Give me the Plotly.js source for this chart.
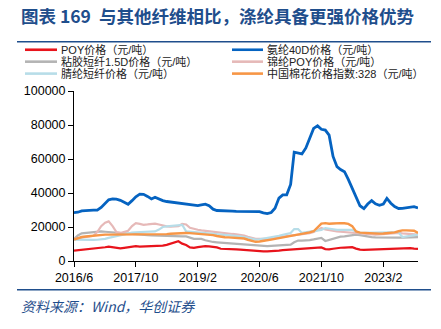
<!DOCTYPE html>
<html>
<head>
<meta charset="utf-8">
<script src="https://cdn.plot.ly/plotly-3.0.1.min.js"></script>
<style>html,body{margin:0;padding:0;background:#fff;}#chart{width:441px;height:329px;}</style>
</head>
<body>
<div id="chart"></div>
<script>
// ---- data ----
var startMonth = '2016-06';
var seriesNames = ['POY价格（元/吨）','氨纶40D价格（元/吨）','粘胶短纤1.5D价格（元/吨）','锦纶POY价格（元/吨）','腈纶短纤价格（元/吨）','中国棉花价格指数:328（元/吨）'];
var seriesColors = ['#E8141C','#0563C1','#B4B4B4','#E6B9B8','#B7DDE8','#F79646'];
var seriesWidths = [2.2,2.8,2.2,2.2,2.2,2.4];

var poy = [6100,6300,6600,6900,7100,7300,7500,7700,8100,8500,8000,7500,7400,7700,8000,8400,8700,8500,8600,8700,8800,8700,8800,9000,9500,10200,11200,11600,10200,9400,8000,7700,8200,8600,8700,8600,8500,8000,7200,7000,7100,6900,6800,6700,6500,6200,5900,5700,5600,5700,5700,5700,5800,6100,6400,6600,6700,6900,7000,7200,7300,7500,7700,7900,8000,7000,6800,7200,7600,7800,7900,8000,8100,7300,6700,6600,6700,6700,6700,6800,6900,7000,7100,7200,7400,7600,7700,7600,7300,7100];
var spandex40D = [28500,28700,29500,29800,29800,29900,29900,31500,34000,36000,36500,36400,35700,34500,33400,35500,37800,39300,39200,38000,36500,37500,36500,35500,35000,34700,34500,34200,33800,33600,33300,33000,32600,33000,33400,32500,30500,29700,29500,29400,29300,29300,29200,29200,29100,29100,29100,29300,29000,28300,27900,28500,31000,37000,38900,38900,45000,64000,63600,63000,66500,72000,78000,79500,77500,77000,74000,61500,55500,53800,52500,48000,43000,38000,32500,30800,33500,35500,33600,32800,33500,36800,34000,32000,30900,31000,31400,31800,32000,31200];
var viscose15D = [13000,15000,16300,16600,16900,17100,17300,17400,17200,17000,16800,16600,16500,16200,16000,15700,15500,15400,15300,15200,15100,15000,14900,14800,14500,14600,14700,14600,14500,14500,13800,13000,13000,13000,12200,11600,11200,11000,10800,10700,10600,10600,10400,10000,9800,9500,9200,9000,8800,8700,8700,8900,9100,9300,9400,9500,9600,11000,12000,12000,12000,12300,12700,13100,13600,11800,12500,13300,14000,14300,14500,14800,15200,15500,15200,14800,14200,14000,13900,13800,13700,13700,13600,13600,13700,13800,13900,14000,14100,14100];
var nylonPOY = [13000,13300,13600,13900,14100,14800,17000,20500,22500,23300,20500,17000,16500,17000,17800,20500,22300,21800,21300,21500,21800,22000,21500,20800,20400,20200,20300,20500,21800,21500,19500,18800,18400,18000,17700,17400,17000,16700,16500,16300,16100,15900,15700,15500,15000,14200,13500,13000,13000,13000,13000,13000,13500,14000,14300,14600,14900,15100,15300,15500,15800,16300,17000,18200,19400,18500,18000,17700,17400,17200,17000,16800,16500,16300,16100,15900,15800,15700,15500,15700,15900,16100,16300,16500,16500,16200,16000,15800,15700,15500];
var acrylicStaple = [12600,12500,12400,12300,12300,12400,12500,12600,13000,13600,14100,14800,15500,16000,16400,16700,16900,17000,17100,17200,17300,17400,18500,20000,20400,20600,20800,21000,21300,17400,17200,17000,16800,16600,16500,16300,16000,15700,15500,15300,15100,14900,14700,14500,14000,13500,13000,12600,12800,13200,13400,13600,14200,14800,15400,16000,16500,18800,18800,16500,16800,17200,17600,18000,18300,19400,19000,18600,18300,18300,18300,18300,18300,17400,16500,16600,16700,16800,16900,16900,16900,16900,16900,16900,16900,14100,14400,14800,15200,15500];
var cotton328 = [12600,13400,14100,14400,14700,15000,15200,15400,15500,15500,15500,15500,15500,15600,15700,15800,15900,15900,15800,15700,15600,15500,15600,15700,15800,16000,16200,16300,16400,16500,16400,16200,16000,15900,15900,15600,15200,14700,14200,14000,13900,13800,13700,13600,13200,12500,11800,11300,11500,12000,12300,12600,13000,13400,13800,14200,14500,15000,15500,16000,16400,16800,17500,20000,22000,22300,21900,22100,22300,22300,22200,21800,20500,17400,16700,16500,16400,16200,16100,16100,16200,16300,16400,16800,17500,18000,18000,18100,17800,16500];

var tickVals = ['2016-06-01','2017-10-01','2019-02-01','2020-06-01','2021-10-01','2023-02-01'];
var tickText = ['2016/6','2017/10','2019/2','2020/6','2021/10','2023/2'];
var titleText = '图表 169  与其他纤维相比，涤纶具备更强价格优势';
var sourceText = '资料来源：Wind，华创证券';

// ---- build ----
var allSeries = [poy, spandex40D, viscose15D, nylonPOY, acrylicStaple, cotton328];
function buildDates(start, n){
  var y = parseInt(start.slice(0,4),10), m = parseInt(start.slice(5,7),10);
  var out = [];
  for (var i=0;i<n;i++){
    out.push(y + '-' + (m<10?'0':'') + m + '-01');
    m++; if (m>12){m=1;y++;}
  }
  return out;
}
var dates = buildDates(startMonth, poy.length);

var order = [2,3,4,5,0,1];
var traces = order.map(function(i){
  return {x: dates, y: allSeries[i], type:'scatter', mode:'lines', name: seriesNames[i],
    line:{color: seriesColors[i], width: seriesWidths[i]}, hoverinfo:'skip'};
});

var W=441,H=329, mL=74, mR=23, mT=90.5, mB=67.5;
var pw = W-mL-mR, ph = H-mT-mB;
function px(x){return (x-mL)/pw;}
function py(y){return 1-(y-mT)/ph;}

var shapes = [
  {type:'line', xref:'paper', yref:'paper', x0:px(17), x1:px(431), y0:py(41), y1:py(41), line:{color:'#1F4E8C', width:1.5}},
  {type:'line', xref:'paper', yref:'paper', x0:px(17), x1:px(431), y0:py(290.5), y1:py(290.5), line:{color:'#1F4E8C', width:1.5}}
];
var annotations = [
  {xref:'paper', yref:'paper', x:px(19), y:py(15), xanchor:'left', yanchor:'middle', showarrow:false,
   text:'<b>'+titleText+'</b>', font:{family:'Noto Sans CJK SC, sans-serif', size:17.5, color:'#1F4E8C'}},
  {xref:'paper', yref:'paper', x:px(19), y:py(307), xanchor:'left', yanchor:'middle', showarrow:false,
   text:'<i>'+sourceText+'</i>', font:{family:'Noto Sans CJK SC, sans-serif', size:14, color:'#1F4E8C'}}
];
var legCols = [[25,57,60],[232,263,266]];
var legRows = [49,61,73];
for (var k=0;k<seriesNames.length;k++){
  var c = legCols[k%2], r = legRows[Math.floor(k/2)];
  shapes.push({type:'line', xref:'paper', yref:'paper', x0:px(c[0]), x1:px(c[1]), y0:py(r), y1:py(r),
    line:{color:seriesColors[k], width:2.6}});
  annotations.push({xref:'paper', yref:'paper', x:px(c[2]), y:py(r), xanchor:'left', yanchor:'middle', showarrow:false,
    height:11, borderpad:0,
    text:seriesNames[k], font:{family:'Liberation Sans, Noto Sans CJK SC, sans-serif', size:11, color:'#222'}});
}

var layout = {
  width:W, height:H, margin:{l:mL, r:mR, t:mT, b:mB, pad:0},
  paper_bgcolor:'#fff', plot_bgcolor:'#fff', showlegend:false,
  font:{family:'Liberation Sans, Arial, sans-serif', size:12, color:'#000'},
  xaxis:{type:'date', range:['2016-06-01','2023-11-01'], tickmode:'array', tickvals:tickVals, ticktext:tickText,
    showgrid:false, zeroline:false, showline:true, linecolor:'#000', linewidth:1,
    ticks:'outside', ticklen:5, tickcolor:'#000', tickfont:{size:12.5, color:'#000'}},
  yaxis:{range:[0,100000], dtick:20000, tick0:0, showgrid:false, zeroline:false, showline:true, linecolor:'#000', linewidth:1,
    ticks:'outside', ticklen:5, tickcolor:'#000', tickfont:{size:12.5, color:'#000'}, tickformat:'d'},
  shapes:shapes, annotations:annotations
};
Plotly.newPlot('chart', traces, layout, {staticPlot:true, displayModeBar:false});
</script>
</body>
</html>
